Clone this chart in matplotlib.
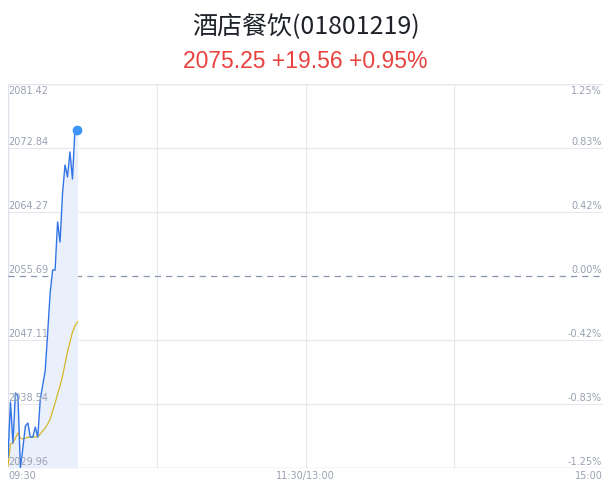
import matplotlib
matplotlib.use("Agg")
import matplotlib.pyplot as plt
import numpy as np

title = "酒店餐饮(01801219)"
subtitle = "2075.25 +19.56 +0.95%"
base = 2055.69
y_ticks = [2029.96, 2038.54, 2047.11, 2055.69, 2064.27, 2072.84, 2081.42]
pct_labels = ["-1.25%", "-0.83%", "-0.42%", "0.00%", "0.42%", "0.83%", "1.25%"]
x_tick_pos = [0, 120, 240]
x_tick_labels = ["09:30", "11:30/13:00", "15:00"]

price = [2031.43, 2038.80, 2033.31, 2040.01, 2039.61, 2029.96, 2032.64, 2035.59,
         2035.99, 2034.11, 2034.11, 2035.45, 2034.11, 2039.07, 2041.08, 2042.96,
         2048.05, 2053.41, 2056.49, 2056.49, 2062.93, 2060.25, 2066.81, 2070.57,
         2068.96, 2072.31, 2068.69, 2075.25, 2075.25]
avg = [2030.23, 2033.18, 2033.31, 2033.98, 2034.65, 2033.98, 2033.85, 2033.98,
       2034.05, 2034.11, 2034.11, 2034.11, 2034.18, 2034.52, 2034.92, 2035.32,
       2035.86, 2036.53, 2037.60, 2038.67, 2039.88, 2040.95, 2042.29, 2043.90,
       2045.51, 2046.85, 2048.19, 2048.99, 2049.53]

minutes = np.arange(len(price))

fig = plt.figure(figsize=(6.11, 4.92), dpi=100)
ax = fig.add_axes([8/611, 24/492, 595/611, 384/492])
ax.set_xlim(0, 240)
ax.set_ylim(y_ticks[0], y_ticks[-1])

grid_c = "#e6e8ee"
for yv in y_ticks:
    if abs(yv - base) > 1e-6:
        ax.axhline(yv, color=grid_c, lw=0.8, zorder=0)
for xv in [60, 120, 180]:
    ax.axvline(xv, color=grid_c, lw=0.8, zorder=0)
ax.axhline(base, color="#8a96b0", lw=0.9, ls=(0, (5, 4)), zorder=1)

for s in ["top", "right", "bottom", "left"]:
    ax.spines[s].set_visible(False)
ax.axvline(0, color="#dfe2ea", lw=1.0, zorder=0)
ax.axhline(y_ticks[0], color="#d8dbe3", lw=1.0, zorder=0)
ax.axhline(y_ticks[-1], color="#e3e5eb", lw=1.0, zorder=0)

ax.fill_between(minutes, price, y_ticks[0], color="#e9effb", lw=0, zorder=1)
ax.plot(minutes, avg, color="#d6b62a", lw=0.9, zorder=2)
ax.plot(minutes, price, color="#3274e6", lw=1.0, zorder=3)
ax.plot(minutes[-1], price[-1], "o", color="#3f95f7", ms=6, zorder=4)

ax.set_xticks([])
ax.set_yticks([])

lab_c = "#9aa1b2"
fs = 7
for i, (yv, pl) in enumerate(zip(y_ticks, pct_labels)):
    va = "top" if i == len(y_ticks) - 1 else "bottom"
    off = -1.5 if va == "top" else 1
    ax.annotate(f"{yv:.2f}", (0, yv), xytext=(0, off), textcoords="offset points",
                ha="left", va=va, fontsize=fs, color=lab_c, family="DejaVu Sans")
    ax.annotate(pl, (240, yv), xytext=(-1, off), textcoords="offset points",
                ha="right", va=va, fontsize=fs, color=lab_c, family="DejaVu Sans")

has = ["left", "center", "right"]
for xp, xl, ha in zip(x_tick_pos, x_tick_labels, has):
    ax.annotate(xl, (xp, y_ticks[0]), xytext=(0, -2), textcoords="offset points",
                ha=ha, va="top", fontsize=fs, color=lab_c, family="DejaVu Sans")

fig.text(0.5, 1 - 27/492, title, ha="center", va="center", fontsize=18,
         fontweight="medium", color="#1f2329",
         family=["Noto Sans CJK SC", "DejaVu Sans"])
fig.text(0.5, 1 - 61/492, subtitle, ha="center", va="center", fontsize=16.5,
         color="#e8413e", family=["Liberation Sans", "DejaVu Sans"])

fig.savefig("out.png", dpi=100)
